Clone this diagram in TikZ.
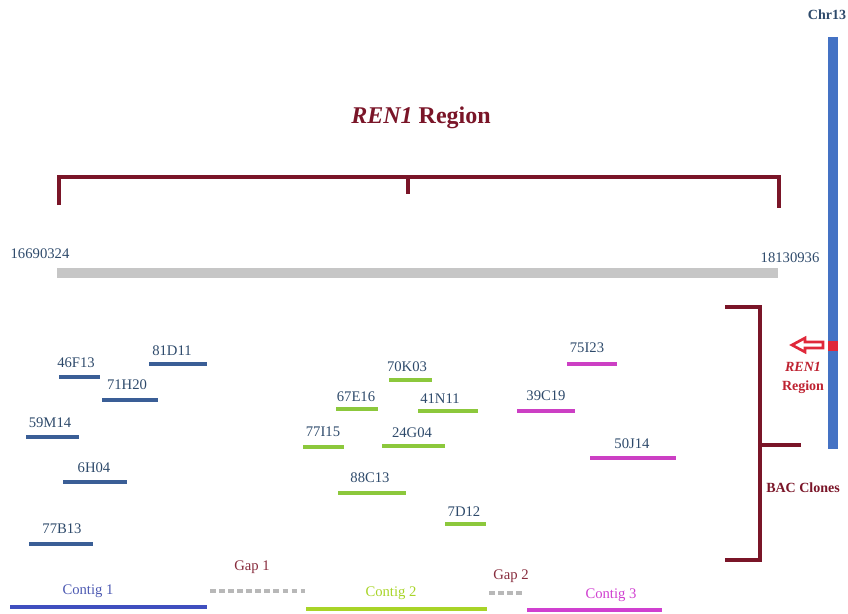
\documentclass[tikz,border=0pt]{standalone}
\usepackage{fontspec}
\setmainfont{Liberation Serif}
\definecolor{dred}{HTML}{7A1528}
\definecolor{lbl}{HTML}{2E4A6B}
\definecolor{cblue}{HTML}{3A5E96}
\definecolor{cgreen}{HTML}{8CC83C}
\definecolor{cmag}{HTML}{CC3FC4}
\definecolor{chrblue}{HTML}{4472C4}
\definecolor{rred}{HTML}{E0283A}
\definecolor{c1}{HTML}{3F4FBF}
\definecolor{c2}{HTML}{A8D428}
\definecolor{c3}{HTML}{D040D0}
\definecolor{gapg}{HTML}{B8B8B8}
\begin{document}
\begin{tikzpicture}[x=0.75pt,y=-0.75pt,
  lab/.style={font=\fontsize{11}{13}\selectfont, text=lbl, inner sep=0pt},
  clline/.style={line width=2.3pt},
  brk/.style={draw=dred, line width=2.3pt},
  ctg/.style={line width=3pt}]
\useasboundingbox (0,0) rectangle (848,613);
% title
\node[text=dred, font=\fontsize{18}{20}\selectfont\bfseries] (title) at (421,118) {\textit{REN1} Region};
% top bracket
\coordinate (tl) at (59,205);
\coordinate (tla) at (59,177);
\coordinate (tm) at (408,177);
\coordinate (tmb) at (408,194);
\coordinate (tra) at (779,177);
\coordinate (tr) at (779,208);
\draw[brk] (tl) -- (tla) -- (tra) -- (tr);
\draw[brk] (tm) -- (tmb);
% coordinates and gray bar
\node[lab] (n1) at (40,254) {16690324};
\node[lab] (n2) at (790,258) {18130936};
\coordinate (ga) at (57,273);
\coordinate (gb) at (778,273);
\draw[line width=6.8pt, draw=gray!45] (ga) -- (gb);
% chromosome
\node[text=lbl, font=\fontsize{10.5}{12}\selectfont\bfseries, inner sep=0pt] (chr) at (827,15) {Chr13};
\coordinate (cha) at (833,37);
\coordinate (chb) at (833,449);
\draw[line width=7.2pt, draw=chrblue] (cha) -- (chb);
\node[fill=rred, minimum width=7.5pt, minimum height=7.5pt, inner sep=0pt] (sq) at (833,346) {};
\draw[draw=rred, fill=white, line width=2pt] (792,345) -- (805,338) -- (805,342) -- (823,342) -- (823,348) -- (805,348) -- (805,352) -- cycle;
\node[text=rred!85!black, font=\fontsize{10.5}{12}\selectfont\bfseries\itshape, inner sep=0pt] (r1) at (803,367) {REN1};
\node[text=rred!85!black, font=\fontsize{10.5}{12}\selectfont\bfseries, inner sep=0pt] (r2) at (803,387) {Region};
% right bracket
\coordinate (ra) at (725,307);
\coordinate (rb) at (760,307);
\coordinate (rc) at (760,560);
\coordinate (rd) at (725,560);
\coordinate (rm) at (760,445);
\coordinate (rn) at (801,445);
\draw[brk] (ra) -- (rb) -- (rc) -- (rd);
\draw[brk] (rm) -- (rn);
\node[text=dred, font=\fontsize{10.5}{12}\selectfont\bfseries, inner sep=0pt] (bac) at (803,488) {BAC Clones};
% clones: name/x1/x2/y/tx/ty/color
\foreach \nm/\xa/\xb/\yy/\tx/\ty/\cc in {
  46F13/59/100/377/76/363/cblue,
  81D11/149/207/364/172/351/cblue,
  71H20/102/158/400/127/385/cblue,
  59M14/26/79/437/50/423/cblue,
  6H04/63/127/482/94/468/cblue,
  77B13/29/93/544/62/529/cblue,
  70K03/389/432/380/407/367/cgreen,
  67E16/336/378/409/356/397/cgreen,
  41N11/418/478/411/440/399/cgreen,
  77I15/303/344/447/323/432/cgreen,
  24G04/382/445/446/412/433/cgreen,
  88C13/338/406/493/370/478/cgreen,
  7D12/445/486/524/464/512/cgreen,
  75I23/567/617/364/587/348/cmag,
  39C19/517/575/411/546/396/cmag,
  50J14/590/676/458/632/444/cmag}{
  \node[lab] (t\nm) at (\tx,\ty) {\nm};
  \coordinate (a\nm) at (\xa,\yy);
  \coordinate (b\nm) at (\xb,\yy);
  \draw[clline, draw=\cc] (a\nm) -- (b\nm);
}
% contigs
\node[lab, text=c1!80!gray] (ct1) at (88,591) {Contig 1};
\coordinate (c1a) at (10,607); \coordinate (c1b) at (207,607);
\draw[ctg, draw=c1] (c1a) -- (c1b);
\node[lab, text=dred!90] (g1) at (252,567) {Gap 1};
\coordinate (g1a) at (210,591); \coordinate (g1b) at (305,591);
\draw[line width=3.2pt, draw=gapg, dash pattern=on 4.2pt off 2.6pt] (g1a) -- (g1b);
\node[lab, text=c2] (ct2) at (391,593) {Contig 2};
\coordinate (c2a) at (306,609); \coordinate (c2b) at (487,609);
\draw[ctg, draw=c2] (c2a) -- (c2b);
\node[lab, text=dred!90] (g2) at (511,576) {Gap 2};
\coordinate (g2a) at (489,593); \coordinate (g2b) at (522,593);
\draw[line width=3.2pt, draw=gapg, dash pattern=on 4.2pt off 2.6pt] (g2a) -- (g2b);
\node[lab, text=c3] (ct3) at (611,595) {Contig 3};
\coordinate (c3a) at (527,610); \coordinate (c3b) at (662,610);
\draw[ctg, draw=c3] (c3a) -- (c3b);
\end{tikzpicture}
\end{document}
